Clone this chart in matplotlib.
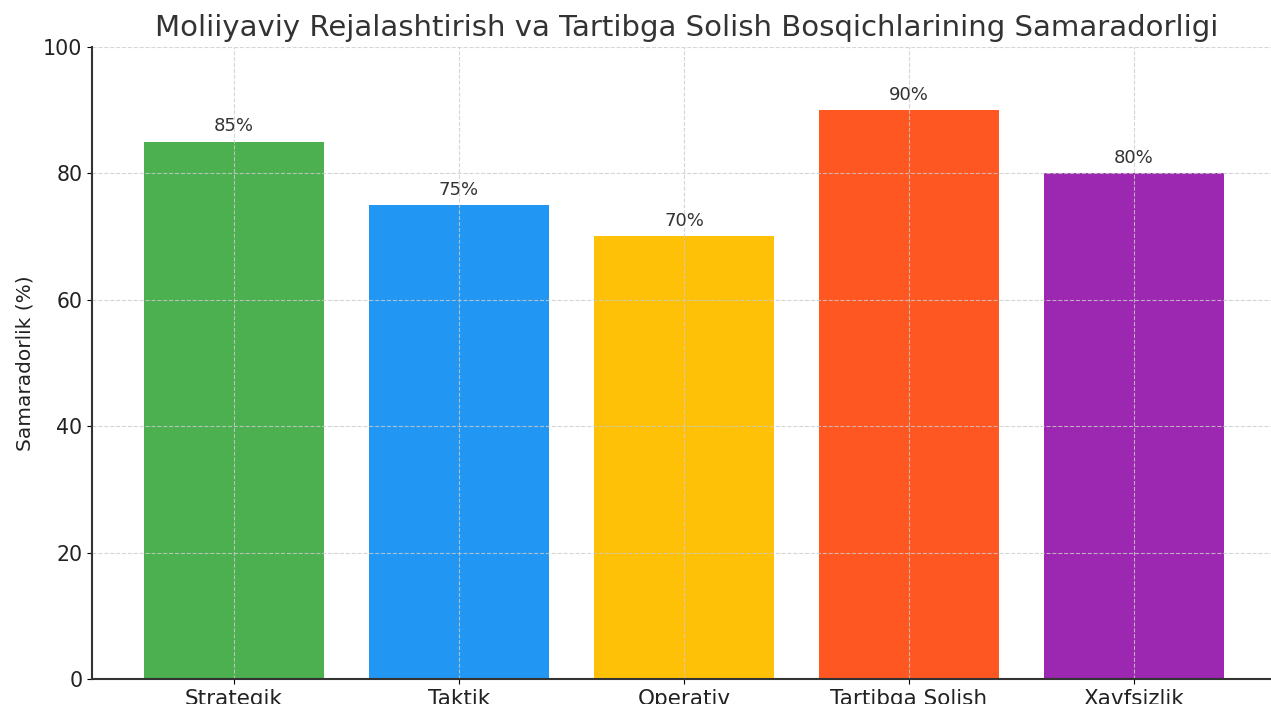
import matplotlib.pyplot as plt
import numpy as np

plt.rcParams['font.family'] = ['DejaVu Sans']

# data
categories = ["Strategik", "Taktik", "Operativ", "Tartibga Solish", "Xavfsizlik"]
values = [85, 75, 70, 90, 80]
colors = ["#4CAF50", "#2196F3", "#FFC107", "#FF5722", "#9C27B0"]

fig = plt.figure(figsize=(12.71, 7.04), dpi=100)
ax = fig.add_axes([0.0724, 0.0355, 0.935, 0.898])

x = np.arange(len(categories))
bars = ax.bar(x, values, color=colors, width=0.8)

for b, v in zip(bars, values):
    ax.text(b.get_x() + b.get_width() / 2, v + 1, f"{v}%",
            ha="center", va="bottom", fontsize=13, color="#333333")

ax.set_xticks(x)
ax.set_xticklabels(categories, fontsize=15.5, color="#222222")
ax.set_xlim(-0.63, 4.65)
ax.set_ylim(0, 100)
ax.set_yticks([0, 20, 40, 60, 80, 100])
ax.tick_params(axis="y", labelsize=14.8, labelcolor="#222222")
ax.set_ylabel("Samaradorlik (%)", fontsize=14.5, color="#222222", labelpad=6)
ax.set_title("Moliiyaviy Rejalashtirish va Tartibga Solish Bosqichlarining Samaradorligi",
             fontsize=21, color="#333333", pad=8)

ax.grid(True, linestyle="--", color="#cccccc", alpha=0.8)
ax.spines["top"].set_visible(False)
ax.spines["right"].set_visible(False)
for s in ["left", "bottom"]:
    ax.spines[s].set_color("#333333")
    ax.spines[s].set_linewidth(1.5)

fig.savefig("out.png", dpi=100)
